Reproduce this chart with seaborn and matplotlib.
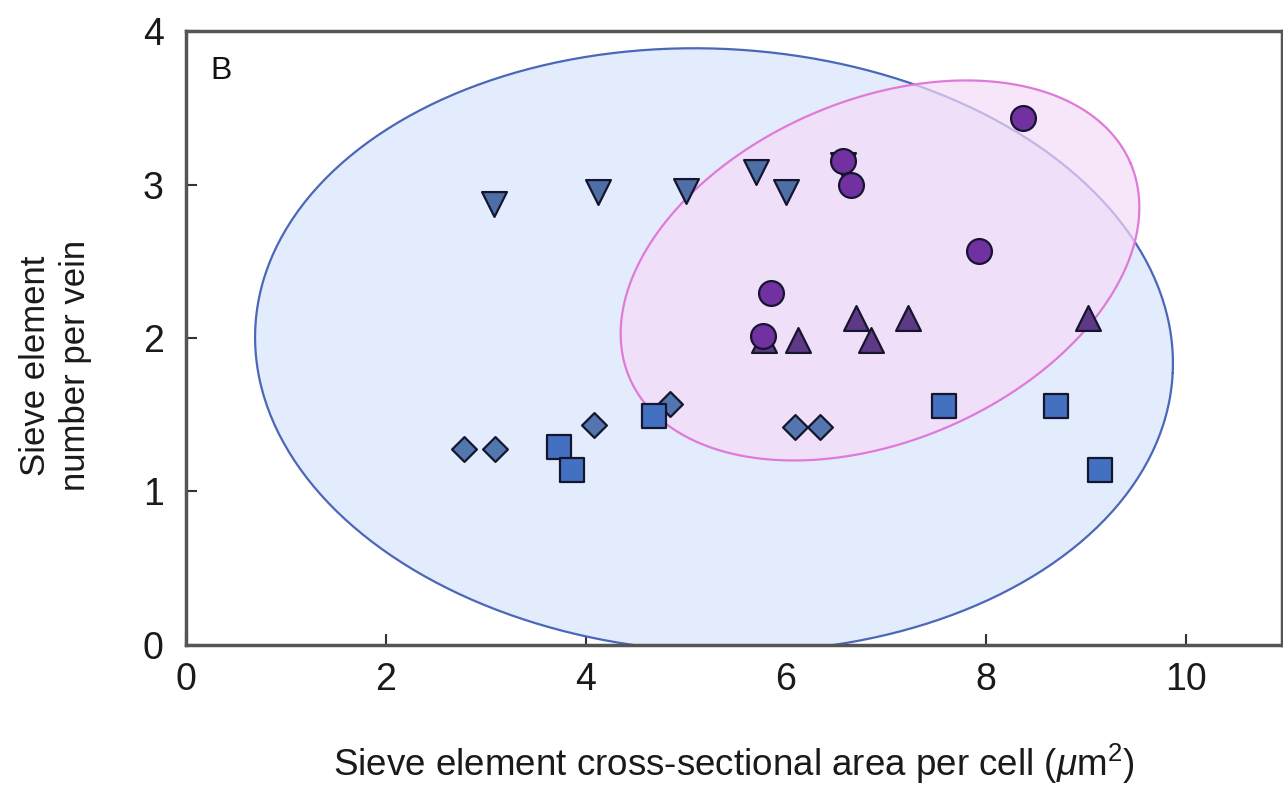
import numpy as np
import pandas as pd
import matplotlib
matplotlib.use("Agg")
import matplotlib.pyplot as plt
import seaborn as sns

# Sieve element measurements, one list pair per group
diamond_area = [2.78, 3.09, 4.08, 4.84, 6.09, 6.34]
diamond_number = [1.28, 1.28, 1.43, 1.57, 1.42, 1.42]

down_tri_area = [3.08, 4.12, 5.00, 5.70, 6.00, 6.57]
down_tri_number = [2.87, 2.95, 2.96, 3.08, 2.95, 3.13]

up_tri_area = [5.78, 6.12, 6.70, 6.85, 7.22, 9.02]
up_tri_number = [1.99, 1.99, 2.13, 1.99, 2.13, 2.13]

square_area = [3.73, 3.86, 4.68, 7.58, 8.70, 9.14]
square_number = [1.29, 1.14, 1.49, 1.56, 1.56, 1.14]

circle_area = [6.57, 6.65, 8.37, 7.93, 5.85, 5.77]
circle_number = [3.15, 3.00, 3.43, 2.57, 2.29, 2.01]

x_ticks = [0, 2, 4, 6, 8, 10]
y_ticks = [0, 1, 2, 3, 4]

# Group ellipses: centre plus two conjugate semi-axis vectors (data units)
blue_center = (5.28, 1.92)
blue_u = (4.587, -0.149)
blue_v = (0.150, 1.962)
pink_center = (6.94, 2.44)
pink_u = (2.505, 0.700)
pink_v = (-0.672, 1.021)

sns.set_theme(style="ticks")
plt.rcParams["font.family"] = ["Liberation Sans", "DejaVu Sans"]
plt.rcParams["mathtext.fontset"] = "custom"
plt.rcParams["mathtext.it"] = "Liberation Sans:italic"
plt.rcParams["mathtext.rm"] = "Liberation Sans"

fig = plt.figure(figsize=(12.83, 7.91), dpi=100)
ax = fig.add_axes([0.145, 0.1846, 0.8542, 0.7762])

t = np.linspace(0, 2 * np.pi, 400)


def draw_ellipse(center, u, v, face, edge, alpha, z):
    xs = center[0] + u[0] * np.cos(t) + v[0] * np.sin(t)
    ys = center[1] + u[1] * np.cos(t) + v[1] * np.sin(t)
    ax.fill(xs, ys, facecolor=face, alpha=alpha, edgecolor="none", zorder=z)
    ax.plot(xs, ys, color=edge, lw=1.6, zorder=z + 0.1)


draw_ellipse(blue_center, blue_u, blue_v, "#e3ecfc", "#4a67b8", 1.0, 1)
draw_ellipse(pink_center, pink_u, pink_v, "#f5daf8", "#e07ad8", 0.7, 2)

groups = [
    ("diamond", diamond_area, diamond_number, "D", "#5276ad", 160),
    ("down", down_tri_area, down_tri_number, "v", "#4d6fa6", 320),
    ("up", up_tri_area, up_tri_number, "^", "#5e3a86", 320),
    ("square", square_area, square_number, "s", "#4470c2", 290),
    ("circle", circle_area, circle_number, "o", "#7131a0", 320),
]

for i, (name, xs, ys, mk, col, size) in enumerate(groups):
    df = pd.DataFrame({"area": xs, "number": ys})
    sns.scatterplot(data=df, x="area", y="number", marker=mk, color=col,
                    s=size, edgecolor="#15152e", linewidth=1.6,
                    zorder=5 + i, ax=ax, legend=False)

ax.set_xlim(0, 10.96)
ax.set_ylim(0, 4)
ax.set_xticks(x_ticks)
ax.set_yticks(y_ticks)
ax.tick_params(axis="both", direction="in", length=8, width=1.5,
               color="#333333", labelsize=27, labelcolor="#1a1a1a",
               bottom=True, left=True, top=False, right=False)
ax.tick_params(axis="x", pad=12)
ax.tick_params(axis="y", pad=16)

for side in ["left", "right", "top", "bottom"]:
    ax.spines[side].set_visible(True)
    ax.spines[side].set_color("#555555")
    ax.spines[side].set_linewidth(2.5)

ax.set_xlabel(r"Sieve element cross-sectional area per cell ($\mu$m$^2$)",
              fontsize=26.5, color="#1a1a1a")
ax.xaxis.set_label_coords(0.5, -0.158)
ax.set_ylabel("Sieve element\nnumber per vein", fontsize=25,
              color="#1a1a1a", linespacing=1.25)
ax.yaxis.set_label_coords(-0.086, 0.455)

ax.text(0.022, 0.935, "B", transform=ax.transAxes, fontsize=23,
        color="#111111", ha="left", va="center", zorder=10)

fig.savefig("out.png", dpi=100)
